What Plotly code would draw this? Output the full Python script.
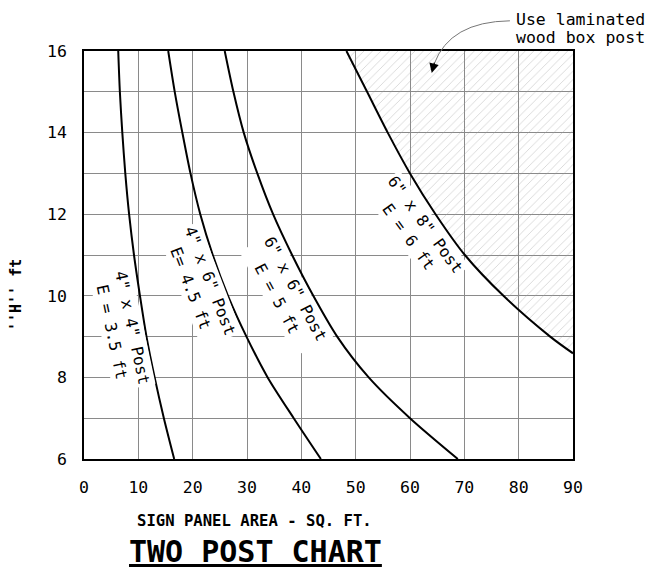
import plotly.graph_objects as go

# ---- data ----
h_levels = [16, 15, 14, 13, 12, 11, 10, 9, 8, 7, 6]
a_4x4 = [6.3, 6.6, 7.05, 7.6, 8.3, 9.2, 10.3, 11.5, 13.0, 14.7, 16.6]
a_4x6 = [15.5, 16.7, 18.1, 19.6, 21.4, 23.7, 26.5, 29.9, 33.8, 38.6, 43.6]
a_6x6 = [25.9, 27.5, 29.4, 31.9, 34.8, 38.3, 42.2, 46.6, 52.4, 60.0, 68.8]

h_6x8 = [16, 15, 14, 13, 12, 11, 10, 9, 8.59]
a_6x8 = [48.3, 52.1, 55.9, 60.0, 64.7, 70.1, 77.2, 85.8, 90]

curve_labels = ['4" x 4" Post<br>E = 3.5 ft', '4" x 6" Post<br>E= 4.5 ft',
                '6" x 6" Post<br>E = 5 ft', '6" x 8" Post<br>E = 6 ft']
label_x = [7.0, 21.4, 37.2, 61.3]
label_y = [9.16, 10.26, 10.04, 11.59]
label_angle = [78, 69, 62, 54]

note_lines = ["Use laminated", "wood box post"]

x_ticks = [0, 10, 20, 30, 40, 50, 60, 70, 80, 90]
y_ticks = [6, 8, 10, 12, 14, 16]

MONO = "DejaVu Sans Mono"

fig = go.Figure()

# hatched "laminated wood box post" zone
fig.add_trace(go.Scatter(
    x=a_6x8 + [90, a_6x8[0]], y=h_6x8 + [16, h_6x8[0]],
    mode="lines", line=dict(width=0, color="rgba(0,0,0,0)", shape="spline", smoothing=0.8),
    fill="toself", fillcolor="rgba(0,0,0,0)",
    fillpattern=dict(shape="/", fgcolor="#9a9a9a", bgcolor="rgba(0,0,0,0)",
                     size=6, solidity=0.12),
    hoverinfo="skip", showlegend=False))

for xs, ys in [(a_4x4, h_levels), (a_4x6, h_levels), (a_6x6, h_levels), (a_6x8, h_6x8)]:
    fig.add_trace(go.Scatter(x=xs, y=ys, mode="lines",
                             line=dict(color="black", width=2, shape="spline", smoothing=0.8),
                             showlegend=False, hoverinfo="skip"))

for txt, lx, ly, ang in zip(curve_labels, label_x, label_y, label_angle):
    fig.add_annotation(x=lx, y=ly, text=txt, textangle=ang, showarrow=False,
                       font=dict(family=MONO, size=16, color="black"),
                       align="center", bgcolor="white", borderpad=1)

# callout
fig.add_shape(type="path", xref="paper", yref="paper",
              path="M 0.871 1.074 Q 0.748 1.072 0.716 0.968",
              line=dict(color="#777777", width=1))
fig.add_annotation(x=64.0, y=15.46, ax=3, ay=-12, showarrow=True,
                   arrowhead=2, arrowsize=1.6, arrowwidth=1.2, arrowcolor="black", text="")
for line_txt, ly in zip(note_lines, [1.076, 1.032]):
    fig.add_annotation(xref="paper", yref="paper", x=0.882, y=ly, xanchor="left", yanchor="middle",
                       text=line_txt, showarrow=False, align="left", borderpad=0,
                       font=dict(family=MONO, size=16.5, color="black"))

# axis titles / chart title
fig.add_annotation(xref="paper", yref="paper", x=-0.139, y=0.402, xanchor="center", yanchor="middle",
                   text="''H'' ft", textangle=-90, showarrow=False,
                   font=dict(family=MONO, size=15, color="black", weight="bold"))
fig.add_annotation(xref="paper", yref="paper", x=0.348, y=-0.152, xanchor="center", yanchor="middle",
                   text="SIGN PANEL AREA - SQ. FT.", showarrow=False,
                   font=dict(family=MONO, size=15.6, color="black", weight="bold"))
fig.add_annotation(xref="paper", yref="paper", x=0.351, y=-0.227, xanchor="center", yanchor="middle",
                   text="TWO POST CHART", showarrow=False,
                   font=dict(family=MONO, size=30, color="black", weight="bold", lineposition="under"))

fig.update_xaxes(range=[0, 90], tickvals=x_ticks, showgrid=True, gridcolor="#8a8a8a", gridwidth=1,
                 showline=True, linecolor="black", linewidth=1.5, mirror=True, zeroline=False,
                 ticks="", ticklabelstandoff=12,
                 tickfont=dict(family=MONO, size=16.5, color="black"))
fig.update_yaxes(range=[6, 16], tickvals=y_ticks, showgrid=True, gridcolor="#8a8a8a", gridwidth=1,
                 minor=dict(dtick=1, tick0=6, showgrid=True, gridcolor="#8a8a8a", gridwidth=1),
                 showline=True, linecolor="black", linewidth=1.5, mirror=True, zeroline=False,
                 ticks="", ticklabelstandoff=12,
                 tickfont=dict(family=MONO, size=16.5, color="black"))

# page body has an 8px margin, so the figure is shifted by 8px in the window
fig.update_layout(width=657, height=561, margin=dict(l=76, r=92, t=43, b=110),
                  plot_bgcolor="white", paper_bgcolor="white", showlegend=False)

fig.write_html("out.html")
